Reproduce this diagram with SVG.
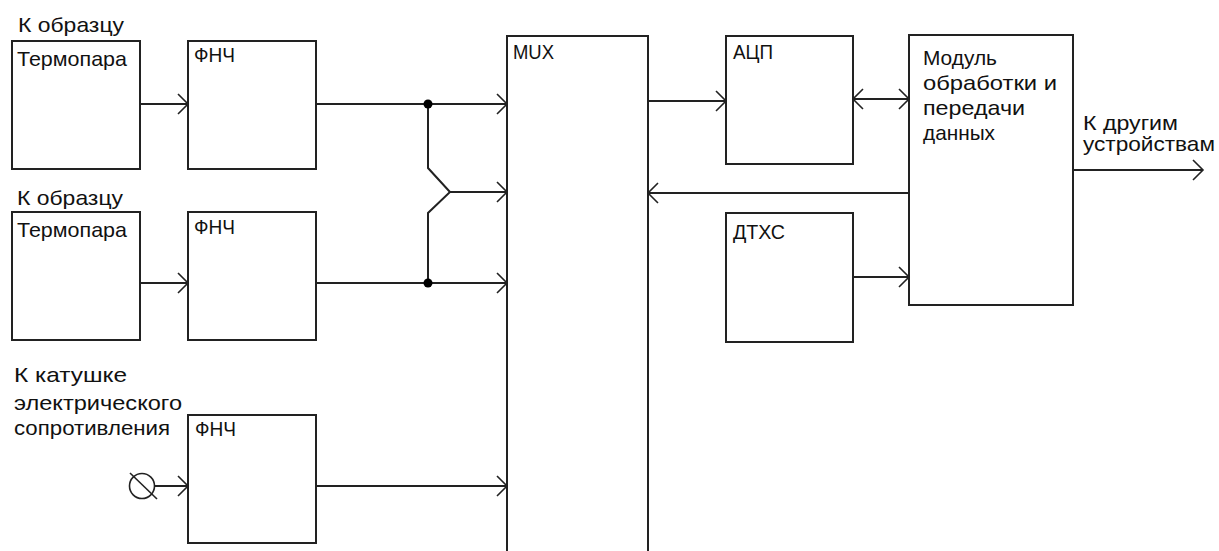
<svg xmlns="http://www.w3.org/2000/svg" width="1219" height="551" viewBox="0 0 1219 551">
<style>
.box{fill:none;stroke:#222;stroke-width:2}
.ln{fill:none;stroke:#222;stroke-width:2}
.ar{marker-end:url(#arr)}
text{font-family:"Liberation Sans","DejaVu Sans",sans-serif;font-size:21px;fill:#111}
</style>
<defs>
<marker id="arr" markerUnits="userSpaceOnUse" markerWidth="24" markerHeight="24" viewBox="-12 -12 24 24" refX="0" refY="0" orient="auto-start-reverse">
<path d="M-10,-10 L0,0 L-10,10" fill="none" stroke="#222" stroke-width="1.6"/>
</marker>
</defs>
<rect width="1219" height="551" fill="#fff"/>

<g id="label-sample1"><text x="18" y="32" textLength="106" lengthAdjust="spacingAndGlyphs">К образцу</text></g>
<g id="thermo1"><rect class="box" x="12" y="41" width="128" height="128"/><text x="17" y="66" textLength="110" lengthAdjust="spacingAndGlyphs">Термопара</text></g>
<g id="lpf1"><rect class="box" x="188" y="41" width="128" height="128"/><text x="194" y="62" textLength="41" lengthAdjust="spacingAndGlyphs">ФНЧ</text></g>

<g id="label-sample2"><text x="17" y="205" textLength="106" lengthAdjust="spacingAndGlyphs">К образцу</text></g>
<g id="thermo2"><rect class="box" x="12" y="212" width="128" height="128"/><text x="17" y="237" textLength="110" lengthAdjust="spacingAndGlyphs">Термопара</text></g>
<g id="lpf2"><rect class="box" x="188" y="212" width="128" height="128"/><text x="194" y="234" textLength="41" lengthAdjust="spacingAndGlyphs">ФНЧ</text></g>

<g id="label-coil">
<text x="14" y="382" textLength="113" lengthAdjust="spacingAndGlyphs">К катушке</text>
<text x="14" y="410" textLength="168" lengthAdjust="spacingAndGlyphs">электрического</text>
<text x="14" y="435" textLength="156" lengthAdjust="spacingAndGlyphs">сопротивления</text>
</g>
<g id="terminal"><circle cx="142" cy="486" r="12.5" fill="none" stroke="#222" stroke-width="1.6"/><line x1="130" y1="473" x2="157" y2="499" stroke="#222" stroke-width="1.6"/></g>
<g id="lpf3"><rect class="box" x="188" y="415" width="128" height="128"/><text x="195" y="436" textLength="41" lengthAdjust="spacingAndGlyphs">ФНЧ</text></g>

<g id="mux"><rect class="box" x="507" y="36" width="141" height="530"/><text x="513" y="59" textLength="41" lengthAdjust="spacingAndGlyphs">MUX</text></g>
<g id="adc"><rect class="box" x="726" y="36" width="127" height="128"/><text x="733" y="59" textLength="40" lengthAdjust="spacingAndGlyphs">АЦП</text></g>
<g id="dtxs"><rect class="box" x="726" y="213" width="127" height="129"/><text x="733" y="239" textLength="52" lengthAdjust="spacingAndGlyphs">ДТХС</text></g>
<g id="module"><rect class="box" x="909" y="35" width="164" height="270"/>
<text x="923" y="65" textLength="74" lengthAdjust="spacingAndGlyphs">Модуль</text>
<text x="923" y="90" textLength="134" lengthAdjust="spacingAndGlyphs">обработки и</text>
<text x="923" y="115" textLength="102" lengthAdjust="spacingAndGlyphs">передачи</text>
<text x="923" y="140" textLength="72" lengthAdjust="spacingAndGlyphs">данных</text>
</g>
<g id="label-out">
<text x="1083" y="130" textLength="95" lengthAdjust="spacingAndGlyphs">К другим</text>
<text x="1083" y="151" textLength="132" lengthAdjust="spacingAndGlyphs">устройствам</text>
</g>

<g id="connectors">
<line class="ln ar" x1="140" y1="104" x2="188" y2="104"/>
<line class="ln ar" x1="140" y1="283" x2="188" y2="283"/>
<line class="ln ar" x1="155" y1="486" x2="188" y2="486"/>
<line class="ln ar" x1="316" y1="104" x2="507" y2="104"/>
<line class="ln ar" x1="316" y1="283" x2="507" y2="283"/>
<line class="ln ar" x1="316" y1="486" x2="507" y2="486"/>
<path class="ln" d="M428,104 V168 L450,192 L428,213 V283"/>
<line class="ln ar" x1="450" y1="192" x2="507" y2="192"/>
<circle cx="428" cy="104" r="4.5" fill="#000"/>
<circle cx="428" cy="283" r="4.5" fill="#000"/>
<line class="ln ar" x1="648" y1="101" x2="726" y2="101"/>
<line class="ln ar" x1="853" y1="99" x2="909" y2="99" marker-start="url(#arr)"/>
<line class="ln ar" x1="909" y1="193" x2="648" y2="193"/>
<line class="ln ar" x1="853" y1="277" x2="909" y2="277"/>
<line class="ln ar" x1="1073" y1="170" x2="1203" y2="170"/>
</g>
</svg>
